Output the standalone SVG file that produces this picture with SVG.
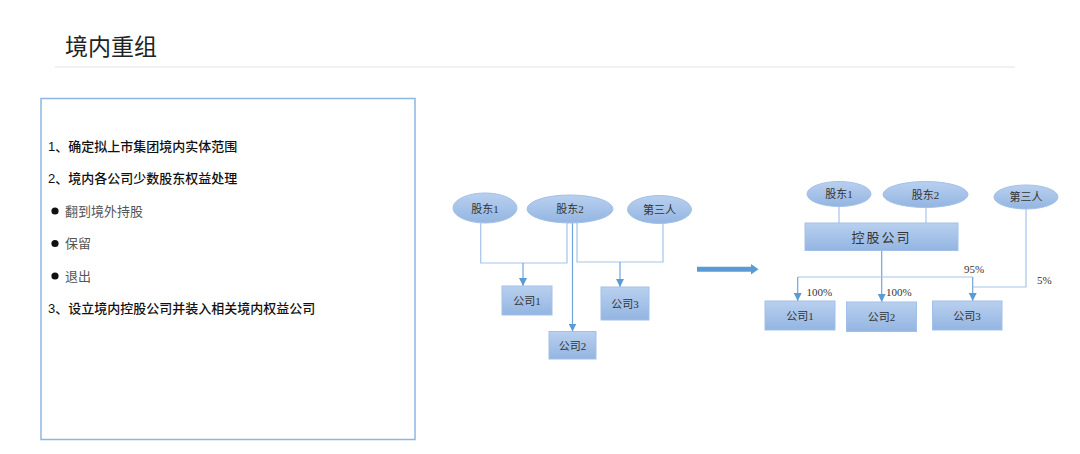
<svg xmlns="http://www.w3.org/2000/svg" width="1080" height="454" viewBox="0 0 1080 454">
<defs>
<linearGradient id="g" x1="0" y1="0" x2="0" y2="1">
<stop offset="0" stop-color="#b9d0ef"/>
<stop offset="1" stop-color="#93b5e1"/>
</linearGradient>
<marker id="ah" viewBox="0 0 10 10" refX="10" refY="5" markerWidth="8" markerHeight="8" markerUnits="userSpaceOnUse" orient="auto">
<path d="M0,0 L10,5 L0,10 Z" fill="#5b9bd5"/>
</marker>
</defs>
<style>
.title{font-family:"Liberation Sans","Noto Sans CJK SC",sans-serif;font-size:23px;fill:#222}
.item{font-family:"Liberation Sans","Noto Sans CJK SC",sans-serif;font-size:13px;fill:#111;font-weight:500}
.sub{font-family:"Liberation Sans","Noto Sans CJK SC",sans-serif;font-size:13px;fill:#555}
.shape{fill:url(#g);stroke:#a3c0e8;stroke-width:1}
.lbl{font-family:"Liberation Serif","Noto Sans CJK SC",serif;font-size:11px;fill:#333;text-anchor:middle;dominant-baseline:central}
.pct{font-family:"Liberation Serif","Noto Sans CJK SC",serif;font-size:11px;fill:#333}
.ln{fill:none;stroke:#a6c3e9;stroke-width:1.2}
.ar{fill:none;stroke:#6fa5dc;stroke-width:1.2;marker-end:url(#ah)}
</style>
<rect width="1080" height="454" fill="#ffffff"/>
<g id="header">
<text class="title" x="65" y="55">境内重组</text>
<line x1="55" y1="67" x2="1015" y2="67" stroke="#e3e3e3" stroke-width="1"/>
</g>
<g id="textbox">
<rect x="41" y="98.5" width="374" height="341" fill="#ffffff" stroke="#8db6e3" stroke-width="1.5"/>
<text class="item" x="48" y="150.5">1、确定拟上市集团境内实体范围</text>
<text class="item" x="48" y="183">2、境内各公司少数股东权益处理</text>
<circle cx="55" cy="211" r="3.6" fill="#111"/>
<text class="sub" x="65" y="215.5">翻到境外持股</text>
<circle cx="55" cy="243.5" r="3.6" fill="#111"/>
<text class="sub" x="65" y="248">保留</text>
<circle cx="55" cy="276" r="3.6" fill="#111"/>
<text class="sub" x="65" y="280.5">退出</text>
<text class="item" x="48" y="313">3、设立境内控股公司并装入相关境内权益公司</text>
</g>
<g id="connectors">
<path class="ln" d="M480.7,223 V263 H567 V222.5"/>
<path class="ar" d="M523,263 V286"/>
<path class="ar" d="M572.5,223 V331.5"/>
<path class="ln" d="M577,222.5 V262 H663 V223"/>
<path class="ar" d="M620,262 V287"/>
<path d="M697,269.2 H752" stroke="#5b9bd5" stroke-width="5" fill="none"/>
<path d="M751,264 L758.5,269.2 L751,274.4 Z" fill="#5b9bd5"/>
<path class="ln" d="M839,206.5 V223"/>
<path class="ln" d="M926,207 V223"/>
<path class="ar" d="M881.7,251 V302"/>
<path class="ln" d="M797.7,277 H972.7"/>
<path class="ar" d="M797.7,277 V301"/>
<path class="ar" d="M972.7,277 V301"/>
<path class="ln" d="M1026,209 V287 H972.7"/>
</g>
<g id="l-gudong1"><ellipse class="shape" cx="485" cy="208" rx="32" ry="15"/><text class="lbl" x="485" y="208.5">股东1</text></g>
<g id="l-gudong2"><ellipse class="shape" cx="570" cy="209" rx="43" ry="14"/><text class="lbl" x="570" y="209">股东2</text></g>
<g id="l-disanren"><ellipse class="shape" cx="659.5" cy="209.5" rx="32" ry="14"/><text class="lbl" x="659.5" y="210">第三人</text></g>
<g id="l-gongsi1"><rect class="shape" x="502" y="286" width="50" height="29"/><text class="lbl" x="527" y="300.5">公司1</text></g>
<g id="l-gongsi3"><rect class="shape" x="601" y="287" width="48" height="33"/><text class="lbl" x="625" y="303.5">公司3</text></g>
<g id="l-gongsi2"><rect class="shape" x="549" y="331.5" width="47" height="27.5"/><text class="lbl" x="572.5" y="345.5">公司2</text></g>
<g id="r-gudong1"><ellipse class="shape" cx="839" cy="194" rx="32" ry="12.5"/><text class="lbl" x="839" y="194">股东1</text></g>
<g id="r-gudong2"><ellipse class="shape" cx="925.5" cy="194.5" rx="42.5" ry="13"/><text class="lbl" x="925.5" y="194.5">股东2</text></g>
<g id="r-disanren"><ellipse class="shape" cx="1026" cy="197" rx="32" ry="12"/><text class="lbl" x="1026" y="197">第三人</text></g>
<g id="r-konggu"><rect class="shape" x="805" y="223" width="153" height="27.5"/><text class="lbl" x="881.5" y="237" style="font-size:13px;letter-spacing:2px">控股公司</text></g>
<g id="r-gongsi1"><rect class="shape" x="765" y="301" width="70" height="29"/><text class="lbl" x="800" y="315.5">公司1</text></g>
<g id="r-gongsi2"><rect class="shape" x="846.5" y="302" width="70" height="29.5"/><text class="lbl" x="881.5" y="317">公司2</text></g>
<g id="r-gongsi3"><rect class="shape" x="932.5" y="301" width="69.5" height="29"/><text class="lbl" x="967" y="315.5">公司3</text></g>
<g id="labels">
<text class="pct" x="806.5" y="296">100%</text>
<text class="pct" x="886" y="296">100%</text>
<text class="pct" x="964" y="272.5">95%</text>
<text class="pct" x="1037" y="284">5%</text>
</g>
</svg>
